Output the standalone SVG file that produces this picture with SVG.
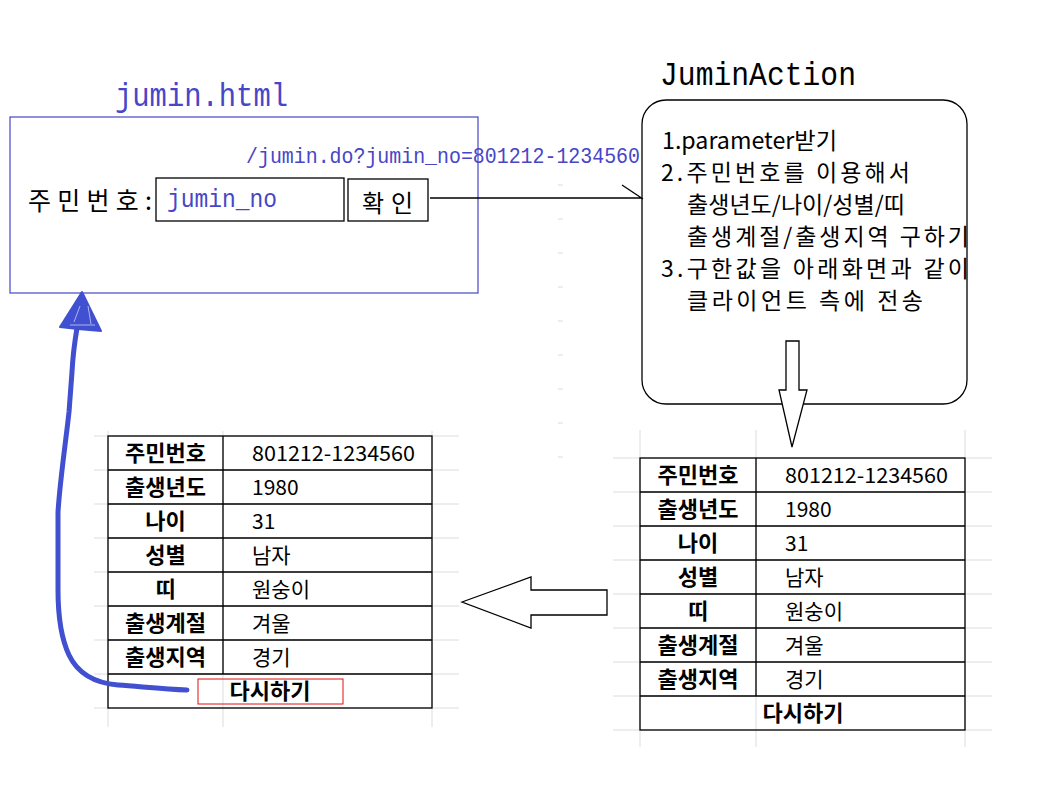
<svg xmlns="http://www.w3.org/2000/svg" width="1054" height="791" viewBox="0 0 1054 791">
<style>
.bg{fill:#ffffff}
.grid{stroke:#dcdcdc;stroke-width:1;fill:none}
.tbl{stroke:#000;stroke-width:1.3;fill:none}
.mono{font-family:"Liberation Mono","Noto Sans CJK KR",monospace}
.kr{font-family:"Noto Sans CJK KR","Noto Sans",sans-serif}
.blue{fill:#4646c8}
.blk{fill:#000}
.lbl{font-family:"Noto Sans CJK KR","Noto Sans",sans-serif;font-weight:bold;font-size:22px;fill:#000;text-anchor:middle}
.val{font-family:"Noto Sans CJK KR","Noto Sans",sans-serif;font-size:21px;fill:#000}
.line{stroke:#000;stroke-width:1.3;fill:none}
.hollow{stroke:#000;stroke-width:1.3;fill:#fff}
</style>
<rect class="bg" x="0" y="0" width="1054" height="791"/>

<!-- faint grid dashes -->
<g id="grid-dashes" class="grid">
<path d="M558,185h5M558,219h5M558,253h5M558,287h5M558,321h5M558,355h5M558,389h5M558,423h5M558,457h5"/>
</g>

<!-- jumin.html node -->
<g id="jumin-html">
<text class="mono blue" x="115" y="106" font-size="33" textLength="173" lengthAdjust="spacingAndGlyphs">jumin.html</text>
<rect x="10" y="117" width="468" height="176" fill="none" stroke="#4646c8" stroke-width="1.2"/>
<text class="kr blk" x="28" y="210" font-size="25" textLength="124" lengthAdjust="spacing">주민번호:</text>
<rect x="156" y="178" width="188" height="43" class="tbl"/>
<text class="mono blue" x="167" y="207" font-size="25" textLength="110" lengthAdjust="spacingAndGlyphs">jumin_no</text>
<rect x="348" y="179" width="80" height="42" class="tbl"/>
<text class="kr blk" x="362" y="212" font-size="24" textLength="51" lengthAdjust="spacing">확인</text>
</g>

<!-- JuminAction node -->
<g id="jumin-action">
<text class="mono blk" x="660" y="85" font-size="34" textLength="196" lengthAdjust="spacingAndGlyphs">JuminAction</text>
<rect x="642" y="100" width="325" height="304" rx="24" ry="24" class="tbl"/>
<g class="kr blk" font-size="23">
<text x="662" y="149" textLength="175" lengthAdjust="spacingAndGlyphs">1.parameter받기</text>
<text x="661" y="181" textLength="249" lengthAdjust="spacing">2.주민번호를 이용해서</text>
<text x="687" y="213" textLength="218" lengthAdjust="spacing">출생년도/나이/성별/띠</text>
<text x="687" y="245" textLength="282" lengthAdjust="spacing">출생계절/출생지역 구하기</text>
<text x="661" y="277" textLength="308" lengthAdjust="spacing">3.구한값을 아래화면과 같이</text>
<text x="687" y="309" textLength="236" lengthAdjust="spacing">클라이언트 측에 전송</text>
</g>
</g>

<!-- left result table -->
<g id="table-left">
<g class="grid">
<path d="M108,431V727M223,431V727M432,431V727"/>
<path d="M94,436H459M94,470H459M94,504H459M94,538H459M94,572H459M94,606H459M94,640H459M94,674H459M94,708H459"/>
</g>
<g class="tbl">
<rect x="108" y="436" width="324" height="272"/>
<path d="M223,436V674M108,470H432M108,504H432M108,538H432M108,572H432M108,606H432M108,640H432M108,674H432"/>
</g>
<text class="lbl" x="165.5" y="461">주민번호</text>
<text class="lbl" x="165.5" y="495">출생년도</text>
<text class="lbl" x="165.5" y="529">나이</text>
<text class="lbl" x="165.5" y="563">성별</text>
<text class="lbl" x="165.5" y="597">띠</text>
<text class="lbl" x="165.5" y="631">출생계절</text>
<text class="lbl" x="165.5" y="665">출생지역</text>
<text class="val" x="252" y="461" textLength="163" lengthAdjust="spacingAndGlyphs">801212-1234560</text>
<text class="val" x="252" y="495">1980</text>
<text class="val" x="252" y="529">31</text>
<text class="val" x="252" y="563">남자</text>
<text class="val" x="252" y="597">원숭이</text>
<text class="val" x="252" y="631">겨울</text>
<text class="val" x="252" y="665">경기</text>
<rect x="198" y="679" width="145" height="25" fill="none" stroke="#e01010" stroke-width="1"/>
<text class="lbl" x="270" y="699">다시하기</text>
</g>

<!-- right result table -->
<g id="table-right">
<g class="grid">
<path d="M640,430V747M756,430V747M965,430V747"/>
<path d="M613,458H992M613,492H992M613,526H992M613,560H992M613,594H992M613,628H992M613,662H992M613,696H992M613,730H992"/>
</g>
<g class="tbl">
<rect x="640" y="458" width="325" height="272"/>
<path d="M756,458V696M640,492H965M640,526H965M640,560H965M640,594H965M640,628H965M640,662H965M640,696H965"/>
</g>
<text class="lbl" x="698" y="483">주민번호</text>
<text class="lbl" x="698" y="517">출생년도</text>
<text class="lbl" x="698" y="551">나이</text>
<text class="lbl" x="698" y="585">성별</text>
<text class="lbl" x="698" y="619">띠</text>
<text class="lbl" x="698" y="653">출생계절</text>
<text class="lbl" x="698" y="687">출생지역</text>
<text class="val" x="785" y="483" textLength="163" lengthAdjust="spacingAndGlyphs">801212-1234560</text>
<text class="val" x="785" y="517">1980</text>
<text class="val" x="785" y="551">31</text>
<text class="val" x="785" y="585">남자</text>
<text class="val" x="785" y="619">원숭이</text>
<text class="val" x="785" y="653">겨울</text>
<text class="val" x="785" y="687">경기</text>
<text class="lbl" x="803" y="721">다시하기</text>
</g>

<!-- connectors -->
<g id="connectors">
<text class="mono blue" x="246" y="163" font-size="22" textLength="394" lengthAdjust="spacingAndGlyphs">/jumin.do?jumin_no=801212-1234560</text>
<path class="line" d="M430,198H642M622,185L643,199"/>
<polygon class="hollow" points="786,341 799,341 799,390 807,390 792,447 779,390 786,390"/>
<polygon class="hollow" points="462,602 531,577 531,590 607,590 607,615 531,615 531,628"/>
<path d="M187,690 C165,689 145,687 118,685 C94,683 78,674 69,655 C61,638 58,618 58,590 L58,512 C60,480 66,440 69,412 L72,372 C73,352 75,340 77,328" fill="none" stroke="#4050d0" stroke-width="5" stroke-linecap="round" stroke-linejoin="round"/>
<polygon points="82,292 101,331 78,329 60,327" fill="#4050d0" stroke="#4050d0" stroke-width="2" stroke-linejoin="round"/>
<path d="M74,322L80,306M88,306L91,324M70,325H95" stroke="#c8d0f4" stroke-width="0.8" fill="none"/>
</g>
</svg>
